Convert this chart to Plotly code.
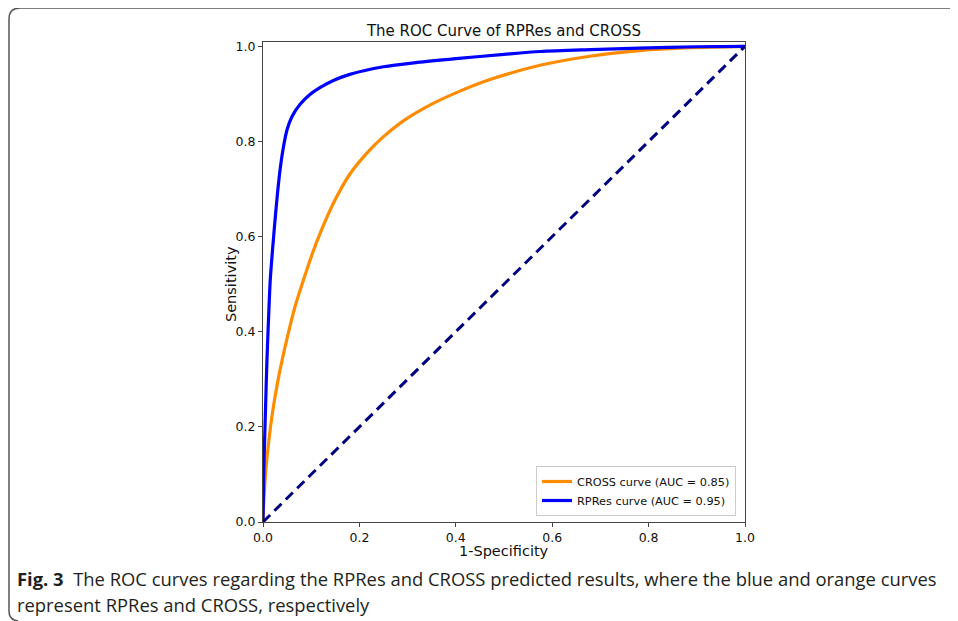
import plotly.graph_objects as go

# ---- data ----
rpres_fpr = [0, 0.002, 0.005, 0.008, 0.012, 0.015, 0.020, 0.025, 0.030, 0.035, 0.041, 0.050,
             0.060, 0.077, 0.098, 0.118, 0.146, 0.180, 0.250, 0.320, 0.400, 0.500, 0.575,
             0.680, 0.780, 0.900, 1.0]
rpres_tpr = [0, 0.12, 0.23, 0.334, 0.44, 0.508, 0.575, 0.635, 0.69, 0.737, 0.78, 0.825,
             0.852, 0.878, 0.899, 0.913, 0.928, 0.941, 0.957, 0.966, 0.974, 0.983, 0.989,
             0.993, 0.996, 0.999, 1.0]

cross_fpr = [0, 0.002, 0.006, 0.012, 0.020, 0.030, 0.040, 0.052, 0.066, 0.087, 0.103, 0.121,
             0.146, 0.180, 0.215, 0.250, 0.284, 0.319, 0.353, 0.400, 0.471, 0.575, 0.678,
             0.782, 0.886, 1.0]
cross_tpr = [0, 0.05, 0.11, 0.17, 0.232, 0.292, 0.342, 0.395, 0.451, 0.518, 0.566, 0.613,
             0.670, 0.731, 0.775, 0.810, 0.838, 0.861, 0.880, 0.902, 0.930, 0.960, 0.979,
             0.991, 0.997, 1.0]

chance_x = [0, 1]
chance_y = [0, 1]

labels = ["CROSS curve (AUC = 0.85)", "RPRes curve (AUC = 0.95)"]
tick_vals = [0.0, 0.2, 0.4, 0.6, 0.8, 1.0]
tick_text = ["0.0", "0.2", "0.4", "0.6", "0.8", "1.0"]

title = "The ROC Curve of RPRes and CROSS"
caption1 = "<b>Fig. 3</b>  The ROC curves regarding the RPRes and CROSS predicted results, where the blue and orange curves"
caption2 = "represent RPRes and CROSS, respectively"

# ---- layout geometry ----
OFF = 8                      # page body margin
W, H = 958 - OFF, 621 - OFF  # figure size
# plot area in page (reference) pixels
L0, R0, T0, B0 = 263, 745, 42, 522
L, R, T, B = L0 - OFF, R0 - OFF, T0 - OFF, B0 - OFF


def px(x):
    return (x - L0) / (R0 - L0)


def py(y):
    return (B0 - y) / (B0 - T0)


fig = go.Figure()
fig.add_trace(go.Scatter(x=cross_fpr, y=cross_tpr, mode="lines", name=labels[0],
                         line=dict(color="#ff8c00", width=3.2, shape="spline", smoothing=0.8)))
fig.add_trace(go.Scatter(x=rpres_fpr, y=rpres_tpr, mode="lines", name=labels[1],
                         line=dict(color="#0000ff", width=3.2, shape="spline", smoothing=0.8)))
fig.add_trace(go.Scatter(x=chance_x, y=chance_y, mode="lines", showlegend=False,
                         line=dict(color="#000080", width=3, dash="10px,6px")))

axis_common = dict(
    showline=True, mirror=True, linecolor="#444", linewidth=1,
    ticks="outside", ticklen=4, tickcolor="#444", tickwidth=1,
    showgrid=False, zeroline=False,
    tickvals=tick_vals, ticktext=tick_text,
    tickfont=dict(family="DejaVu Sans", size=12.5, color="#111"),
)

fig.update_layout(
    width=W, height=H,
    margin=dict(l=L, r=W - R, t=T, b=H - B),
    paper_bgcolor="white", plot_bgcolor="white",
    font=dict(family="DejaVu Sans", color="#111"),
    title=dict(text=title, x=px(504), xref="paper", xanchor="center",
               y=1 - (31 - OFF) / H, yref="container", yanchor="middle",
               font=dict(family="DejaVu Sans", size=15, color="#111")),
    xaxis=dict(range=[0, 1], **axis_common),
    yaxis=dict(range=[0, 1.009], **axis_common),
    legend=dict(x=px(736), y=py(516), xanchor="right", yanchor="bottom",
                bgcolor="rgba(255,255,255,0.85)", bordercolor="#cccccc", borderwidth=1,
                font=dict(family="DejaVu Sans", size=11.3, color="#111"),
                itemwidth=30, tracegroupgap=0),
    showlegend=True,
)

# axis titles as annotations
fig.add_annotation(text="1-Specificity", x=px(504), y=py(551), xref="paper", yref="paper",
                   xanchor="center", yanchor="middle",
                   showarrow=False, font=dict(family="DejaVu Sans", size=14.5, color="#111"))
fig.add_annotation(text="Sensitivity", x=px(231), y=py(284), xref="paper", yref="paper",
                   xanchor="center", yanchor="middle",
                   showarrow=False, textangle=-90,
                   font=dict(family="DejaVu Sans", size=14.5, color="#111"))

# caption
cap_font = dict(family="Open Sans", size=18.4, color="#231f20")
fig.add_annotation(text=caption1, x=px(15), y=py(578), xref="paper", yref="paper",
                   xanchor="left", yanchor="middle", showarrow=False, font=cap_font)
fig.add_annotation(text=caption2, x=px(15), y=py(604), xref="paper", yref="paper",
                   xanchor="left", yanchor="middle", showarrow=False, font=cap_font)

# rounded figure border (top & left, open to the right and bottom)
r = 11
x0, y0 = 9, 8
path = (f"M {px(970)},{py(y0)} L {px(x0 + r)},{py(y0)} "
        f"Q {px(x0)},{py(y0)} {px(x0)},{py(y0 + r)} "
        f"L {px(x0)},{py(611)} "
        f"Q {px(x0)},{py(620)} {px(x0 + 9)},{py(621)}")
fig.add_shape(type="path", path=path, xref="paper", yref="paper",
              line=dict(color="#555", width=1.5), layer="above")

fig.write_html("out.html")
